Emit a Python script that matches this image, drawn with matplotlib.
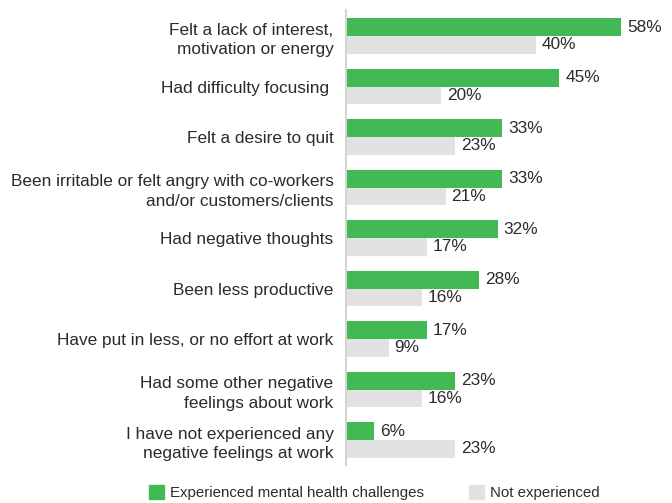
import numpy as np
import matplotlib
matplotlib.use("Agg")
import matplotlib.pyplot as plt
from matplotlib.patches import Patch

plt.rcParams['font.family'] = ['Liberation Sans', 'DejaVu Sans']

categories = [
    "Felt a lack of interest,\nmotivation or energy",
    "Had difficulty focusing ",
    "Felt a desire to quit",
    "Been irritable or felt angry with co-workers\nand/or customers/clients",
    "Had negative thoughts",
    "Been less productive",
    "Have put in less, or no effort at work",
    "Had some other negative\nfeelings about work",
    "I have not experienced any\nnegative feelings at work",
]
experienced = [58, 45, 33, 33, 32, 28, 17, 23, 6]
not_experienced = [40, 20, 23, 21, 17, 16, 9, 16, 23]
series_names = ["Experienced mental health challenges", "Not experienced"]

GREEN = "#43b955"
GREY = "#e2e2e2"
TEXT = "#2b2b2b"
FS = 12.4

W, H = 672, 503
fig = plt.figure(figsize=(W / 100, H / 100), dpi=100)
# axes box in pixels: left 346, top 10, bottom 465
ax = fig.add_axes([346 / W, 1 - 465 / H, (W - 346) / W, (465 - 10) / H])

y = np.arange(len(categories))
bh = 0.356
b1 = ax.barh(y - bh / 2, experienced, height=bh, color=GREEN, linewidth=0)
b2 = ax.barh(y + bh / 2, not_experienced, height=bh, color=GREY, linewidth=0)

for bars, vals in ((b1, experienced), (b2, not_experienced)):
    for rect, v in zip(bars, vals):
        ax.annotate(f"{v}%", (v, rect.get_y() + rect.get_height() / 2),
                    xytext=(6, 0), textcoords="offset pixels",
                    va="center", ha="left", fontsize=FS, color=TEXT)

ax.set_xlim(0, (W - 346) / 4.74)
ax.set_ylim(8.495, -0.515)
ax.set_yticks(y)
ax.set_yticklabels(categories, fontsize=FS, color=TEXT, linespacing=1.4)
ax.tick_params(axis="y", length=0, pad=9)
ax.set_xticks([])
for s in ("top", "right", "bottom"):
    ax.spines[s].set_visible(False)
ax.spines["left"].set_color("#d4d4d4")
ax.spines["left"].set_linewidth(1.5)

handles = [Patch(color=GREEN), Patch(color=GREY)]
fig.legend(handles, series_names, loc="lower left",
           bbox_to_anchor=(146 / W, 0), ncol=2, frameon=False,
           fontsize=10.8, handlelength=1.0, handleheight=1.0,
           handletextpad=0.4, columnspacing=3.0, labelcolor=TEXT,
           borderaxespad=0.1, borderpad=0.1)

fig.savefig("out.png", dpi=100)
